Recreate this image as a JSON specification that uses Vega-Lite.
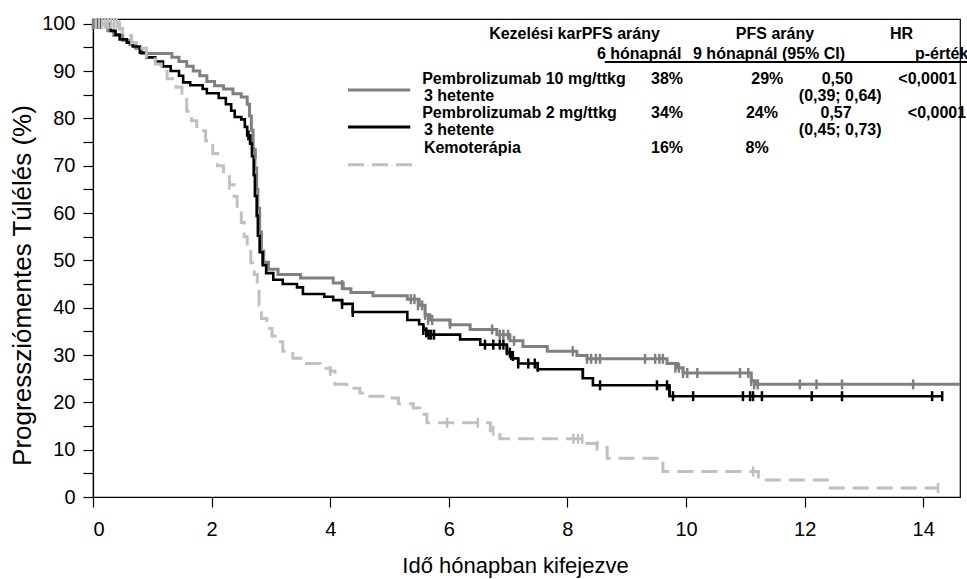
{
  "$schema": "https://vega.github.io/schema/vega-lite/v6.json",
  "width": 867,
  "height": 478,
  "autosize": {"type": "none"},
  "padding": {"left": 93, "top": 19, "right": 7, "bottom": 82},
  "background": "white",
  "config": {
    "font": "Liberation Sans",
    "view": {"stroke": "#000", "strokeWidth": 1.2},
    "axis": {
      "grid": false,
      "domainColor": "#000",
      "tickColor": "#000",
      "labelColor": "#000",
      "titleColor": "#000",
      "labelFont": "Liberation Sans",
      "titleFont": "Liberation Sans",
      "labelFontSize": 20,
      "titleFontSize": 22,
      "titleFontWeight": "normal",
      "tickSize": 10,
      "domainWidth": 1.2,
      "tickWidth": 1.2
    }
  },
  "datasets": {
    "curves": [
      {"arm": "10 mg", "t": 0, "s": 100}, {"arm": "10 mg", "t": 0.25, "s": 98.5}, {"arm": "10 mg", "t": 0.35, "s": 97.5}, {"arm": "10 mg", "t": 0.5, "s": 96.5}, {"arm": "10 mg", "t": 0.62, "s": 95.6}, {"arm": "10 mg", "t": 0.72, "s": 94.8}, {"arm": "10 mg", "t": 0.82, "s": 93.7}, {"arm": "10 mg", "t": 1.33, "s": 92.9}, {"arm": "10 mg", "t": 1.45, "s": 92.0}, {"arm": "10 mg", "t": 1.58, "s": 91.0}, {"arm": "10 mg", "t": 1.69, "s": 90.0}, {"arm": "10 mg", "t": 1.8, "s": 89.0}, {"arm": "10 mg", "t": 1.92, "s": 87.8}, {"arm": "10 mg", "t": 2.05, "s": 86.9}, {"arm": "10 mg", "t": 2.2, "s": 86.2}, {"arm": "10 mg", "t": 2.36, "s": 85.2}, {"arm": "10 mg", "t": 2.5, "s": 84.5}, {"arm": "10 mg", "t": 2.6, "s": 83.0}, {"arm": "10 mg", "t": 2.64, "s": 80.5}, {"arm": "10 mg", "t": 2.67, "s": 77.5}, {"arm": "10 mg", "t": 2.7, "s": 73.5}, {"arm": "10 mg", "t": 2.73, "s": 69.5}, {"arm": "10 mg", "t": 2.76, "s": 65}, {"arm": "10 mg", "t": 2.78, "s": 61}, {"arm": "10 mg", "t": 2.81, "s": 56}, {"arm": "10 mg", "t": 2.84, "s": 52}, {"arm": "10 mg", "t": 2.88, "s": 49.6}, {"arm": "10 mg", "t": 2.96, "s": 48.1}, {"arm": "10 mg", "t": 3.12, "s": 47.0}, {"arm": "10 mg", "t": 3.5, "s": 46.3}, {"arm": "10 mg", "t": 4.05, "s": 45.2}, {"arm": "10 mg", "t": 4.22, "s": 44.0}, {"arm": "10 mg", "t": 4.35, "s": 43.2}, {"arm": "10 mg", "t": 4.72, "s": 42.5}, {"arm": "10 mg", "t": 5.3, "s": 41.8}, {"arm": "10 mg", "t": 5.5, "s": 40.5}, {"arm": "10 mg", "t": 5.6, "s": 38.5}, {"arm": "10 mg", "t": 5.68, "s": 37.4}, {"arm": "10 mg", "t": 6.02, "s": 36.4}, {"arm": "10 mg", "t": 6.36, "s": 35.4}, {"arm": "10 mg", "t": 6.81, "s": 34.3}, {"arm": "10 mg", "t": 7.03, "s": 33.0}, {"arm": "10 mg", "t": 7.25, "s": 31.8}, {"arm": "10 mg", "t": 7.66, "s": 30.8}, {"arm": "10 mg", "t": 8.16, "s": 29.9}, {"arm": "10 mg", "t": 8.33, "s": 29.2}, {"arm": "10 mg", "t": 9.68, "s": 28.2}, {"arm": "10 mg", "t": 9.85, "s": 27.3}, {"arm": "10 mg", "t": 9.95, "s": 26.2}, {"arm": "10 mg", "t": 11.1, "s": 24.5}, {"arm": "10 mg", "t": 11.18, "s": 23.8}, {"arm": "10 mg", "t": 14.62, "s": 23.8},
      {"arm": "2 mg", "t": 0, "s": 100}, {"arm": "2 mg", "t": 0.3, "s": 98.5}, {"arm": "2 mg", "t": 0.38, "s": 97.7}, {"arm": "2 mg", "t": 0.45, "s": 96.7}, {"arm": "2 mg", "t": 0.57, "s": 96.0}, {"arm": "2 mg", "t": 0.67, "s": 95.2}, {"arm": "2 mg", "t": 0.79, "s": 93.9}, {"arm": "2 mg", "t": 0.9, "s": 92.9}, {"arm": "2 mg", "t": 1.05, "s": 92.0}, {"arm": "2 mg", "t": 1.18, "s": 91.0}, {"arm": "2 mg", "t": 1.31, "s": 90.0}, {"arm": "2 mg", "t": 1.45, "s": 89.0}, {"arm": "2 mg", "t": 1.52, "s": 87.6}, {"arm": "2 mg", "t": 1.64, "s": 87.0}, {"arm": "2 mg", "t": 1.85, "s": 86.2}, {"arm": "2 mg", "t": 1.92, "s": 85.3}, {"arm": "2 mg", "t": 2.12, "s": 84.3}, {"arm": "2 mg", "t": 2.24, "s": 83.0}, {"arm": "2 mg", "t": 2.33, "s": 81.6}, {"arm": "2 mg", "t": 2.39, "s": 80.3}, {"arm": "2 mg", "t": 2.5, "s": 79.8}, {"arm": "2 mg", "t": 2.56, "s": 78.2}, {"arm": "2 mg", "t": 2.6, "s": 76.4}, {"arm": "2 mg", "t": 2.65, "s": 74.7}, {"arm": "2 mg", "t": 2.68, "s": 72.0}, {"arm": "2 mg", "t": 2.71, "s": 68}, {"arm": "2 mg", "t": 2.73, "s": 63.6}, {"arm": "2 mg", "t": 2.76, "s": 59.4}, {"arm": "2 mg", "t": 2.78, "s": 55.2}, {"arm": "2 mg", "t": 2.81, "s": 51.7}, {"arm": "2 mg", "t": 2.86, "s": 49.0}, {"arm": "2 mg", "t": 2.92, "s": 47.3}, {"arm": "2 mg", "t": 3.04, "s": 45.9}, {"arm": "2 mg", "t": 3.2, "s": 45.0}, {"arm": "2 mg", "t": 3.44, "s": 44.3}, {"arm": "2 mg", "t": 3.54, "s": 42.9}, {"arm": "2 mg", "t": 3.9, "s": 42.3}, {"arm": "2 mg", "t": 4.05, "s": 41.6}, {"arm": "2 mg", "t": 4.2, "s": 40.8}, {"arm": "2 mg", "t": 4.38, "s": 39.1}, {"arm": "2 mg", "t": 5.3, "s": 37.4}, {"arm": "2 mg", "t": 5.5, "s": 36.5}, {"arm": "2 mg", "t": 5.57, "s": 35.3}, {"arm": "2 mg", "t": 5.62, "s": 34.3}, {"arm": "2 mg", "t": 6.19, "s": 33.3}, {"arm": "2 mg", "t": 6.53, "s": 32.2}, {"arm": "2 mg", "t": 6.98, "s": 30.5}, {"arm": "2 mg", "t": 7.05, "s": 29.3}, {"arm": "2 mg", "t": 7.17, "s": 28.2}, {"arm": "2 mg", "t": 7.5, "s": 27.0}, {"arm": "2 mg", "t": 8.26, "s": 25.1}, {"arm": "2 mg", "t": 8.43, "s": 23.6}, {"arm": "2 mg", "t": 9.72, "s": 21.3}, {"arm": "2 mg", "t": 14.32, "s": 21.3},
      {"arm": "Kemo", "t": 0, "s": 100}, {"arm": "Kemo", "t": 0.45, "s": 99}, {"arm": "Kemo", "t": 0.5, "s": 97.5}, {"arm": "Kemo", "t": 0.65, "s": 96}, {"arm": "Kemo", "t": 0.76, "s": 94.8}, {"arm": "Kemo", "t": 0.9, "s": 93}, {"arm": "Kemo", "t": 1.05, "s": 91.5}, {"arm": "Kemo", "t": 1.15, "s": 90}, {"arm": "Kemo", "t": 1.25, "s": 88.4}, {"arm": "Kemo", "t": 1.4, "s": 86.6}, {"arm": "Kemo", "t": 1.5, "s": 84}, {"arm": "Kemo", "t": 1.58, "s": 81.5}, {"arm": "Kemo", "t": 1.66, "s": 79.5}, {"arm": "Kemo", "t": 1.75, "s": 77.4}, {"arm": "Kemo", "t": 1.9, "s": 75.3}, {"arm": "Kemo", "t": 2.02, "s": 72.6}, {"arm": "Kemo", "t": 2.1, "s": 70}, {"arm": "Kemo", "t": 2.2, "s": 68}, {"arm": "Kemo", "t": 2.3, "s": 66}, {"arm": "Kemo", "t": 2.38, "s": 63.5}, {"arm": "Kemo", "t": 2.43, "s": 60.7}, {"arm": "Kemo", "t": 2.5, "s": 58}, {"arm": "Kemo", "t": 2.55, "s": 55}, {"arm": "Kemo", "t": 2.6, "s": 52.3}, {"arm": "Kemo", "t": 2.66, "s": 49.5}, {"arm": "Kemo", "t": 2.72, "s": 47}, {"arm": "Kemo", "t": 2.77, "s": 44.5}, {"arm": "Kemo", "t": 2.8, "s": 40.5}, {"arm": "Kemo", "t": 2.84, "s": 37.7}, {"arm": "Kemo", "t": 2.93, "s": 35.6}, {"arm": "Kemo", "t": 3.02, "s": 34}, {"arm": "Kemo", "t": 3.1, "s": 32.8}, {"arm": "Kemo", "t": 3.2, "s": 30.8}, {"arm": "Kemo", "t": 3.37, "s": 29.3}, {"arm": "Kemo", "t": 3.6, "s": 28.2}, {"arm": "Kemo", "t": 3.83, "s": 27.2}, {"arm": "Kemo", "t": 4.0, "s": 26.6}, {"arm": "Kemo", "t": 4.08, "s": 23.8}, {"arm": "Kemo", "t": 4.28, "s": 23.0}, {"arm": "Kemo", "t": 4.5, "s": 22.0}, {"arm": "Kemo", "t": 4.67, "s": 21.3}, {"arm": "Kemo", "t": 4.89, "s": 20.9}, {"arm": "Kemo", "t": 5.15, "s": 19.7}, {"arm": "Kemo", "t": 5.4, "s": 18.8}, {"arm": "Kemo", "t": 5.51, "s": 17.5}, {"arm": "Kemo", "t": 5.63, "s": 15.7}, {"arm": "Kemo", "t": 6.7, "s": 14.0}, {"arm": "Kemo", "t": 6.86, "s": 12.3}, {"arm": "Kemo", "t": 8.3, "s": 11.3}, {"arm": "Kemo", "t": 8.5, "s": 10.5}, {"arm": "Kemo", "t": 8.67, "s": 8.2}, {"arm": "Kemo", "t": 9.61, "s": 5.4}, {"arm": "Kemo", "t": 11.22, "s": 3.6}, {"arm": "Kemo", "t": 12.38, "s": 1.9}, {"arm": "Kemo", "t": 14.25, "s": 1.9}
    ],
    "censors": [
      {"arm": "10 mg", "t": 0.0, "s": 100}, {"arm": "10 mg", "t": 0.02, "s": 100}, {"arm": "10 mg", "t": 2.74, "s": 72.5}, {"arm": "10 mg", "t": 4.2, "s": 44.8}, {"arm": "10 mg", "t": 5.36, "s": 41.8}, {"arm": "10 mg", "t": 5.42, "s": 41.8}, {"arm": "10 mg", "t": 5.48, "s": 40.5}, {"arm": "10 mg", "t": 5.55, "s": 40.5}, {"arm": "10 mg", "t": 5.6, "s": 38.5}, {"arm": "10 mg", "t": 5.65, "s": 37.4}, {"arm": "10 mg", "t": 5.72, "s": 37.4}, {"arm": "10 mg", "t": 6.02, "s": 36.6}, {"arm": "10 mg", "t": 6.73, "s": 35.4}, {"arm": "10 mg", "t": 6.86, "s": 34.3}, {"arm": "10 mg", "t": 6.92, "s": 34.3}, {"arm": "10 mg", "t": 7.0, "s": 34.3}, {"arm": "10 mg", "t": 7.1, "s": 33.0}, {"arm": "10 mg", "t": 8.09, "s": 30.8}, {"arm": "10 mg", "t": 8.33, "s": 29.2}, {"arm": "10 mg", "t": 8.4, "s": 29.2}, {"arm": "10 mg", "t": 8.48, "s": 29.2}, {"arm": "10 mg", "t": 8.55, "s": 29.2}, {"arm": "10 mg", "t": 9.31, "s": 29.2}, {"arm": "10 mg", "t": 9.48, "s": 29.2}, {"arm": "10 mg", "t": 9.55, "s": 29.2}, {"arm": "10 mg", "t": 9.61, "s": 29.2}, {"arm": "10 mg", "t": 9.82, "s": 27.3}, {"arm": "10 mg", "t": 9.88, "s": 27.3}, {"arm": "10 mg", "t": 9.95, "s": 26.2}, {"arm": "10 mg", "t": 10.02, "s": 26.2}, {"arm": "10 mg", "t": 10.19, "s": 26.2}, {"arm": "10 mg", "t": 10.91, "s": 26.2}, {"arm": "10 mg", "t": 11.05, "s": 26.2}, {"arm": "10 mg", "t": 11.1, "s": 24.5}, {"arm": "10 mg", "t": 11.15, "s": 23.8}, {"arm": "10 mg", "t": 11.21, "s": 23.8}, {"arm": "10 mg", "t": 11.92, "s": 23.8}, {"arm": "10 mg", "t": 12.2, "s": 23.8}, {"arm": "10 mg", "t": 12.63, "s": 23.8}, {"arm": "10 mg", "t": 13.83, "s": 23.8},
      {"arm": "2 mg", "t": 0.07, "s": 100}, {"arm": "2 mg", "t": 0.12, "s": 100}, {"arm": "2 mg", "t": 2.62, "s": 76.4}, {"arm": "2 mg", "t": 2.65, "s": 75.5}, {"arm": "2 mg", "t": 4.2, "s": 40.8}, {"arm": "2 mg", "t": 4.38, "s": 39.1}, {"arm": "2 mg", "t": 5.57, "s": 35.3}, {"arm": "2 mg", "t": 5.62, "s": 34.8}, {"arm": "2 mg", "t": 5.66, "s": 34.3}, {"arm": "2 mg", "t": 5.7, "s": 34.3}, {"arm": "2 mg", "t": 5.75, "s": 34.3}, {"arm": "2 mg", "t": 6.61, "s": 32.2}, {"arm": "2 mg", "t": 6.75, "s": 32.2}, {"arm": "2 mg", "t": 6.86, "s": 32.2}, {"arm": "2 mg", "t": 6.92, "s": 32.2}, {"arm": "2 mg", "t": 6.98, "s": 31.0}, {"arm": "2 mg", "t": 7.03, "s": 30.5}, {"arm": "2 mg", "t": 7.08, "s": 29.8}, {"arm": "2 mg", "t": 7.17, "s": 28.2}, {"arm": "2 mg", "t": 7.34, "s": 28.2}, {"arm": "2 mg", "t": 7.45, "s": 28.2}, {"arm": "2 mg", "t": 7.5, "s": 27.5}, {"arm": "2 mg", "t": 8.26, "s": 26.0}, {"arm": "2 mg", "t": 8.55, "s": 23.6}, {"arm": "2 mg", "t": 9.51, "s": 23.6}, {"arm": "2 mg", "t": 9.68, "s": 23.6}, {"arm": "2 mg", "t": 9.72, "s": 22.5}, {"arm": "2 mg", "t": 9.78, "s": 21.3}, {"arm": "2 mg", "t": 10.12, "s": 21.3}, {"arm": "2 mg", "t": 10.96, "s": 21.3}, {"arm": "2 mg", "t": 11.08, "s": 21.3}, {"arm": "2 mg", "t": 11.13, "s": 21.3}, {"arm": "2 mg", "t": 11.28, "s": 21.3}, {"arm": "2 mg", "t": 12.12, "s": 21.3}, {"arm": "2 mg", "t": 12.63, "s": 21.3}, {"arm": "2 mg", "t": 14.15, "s": 21.3}, {"arm": "2 mg", "t": 14.32, "s": 21.3},
      {"arm": "Kemo", "t": 0.05, "s": 100}, {"arm": "Kemo", "t": 0.1, "s": 100}, {"arm": "Kemo", "t": 0.15, "s": 100}, {"arm": "Kemo", "t": 0.2, "s": 100}, {"arm": "Kemo", "t": 0.25, "s": 100}, {"arm": "Kemo", "t": 0.3, "s": 100}, {"arm": "Kemo", "t": 0.35, "s": 100}, {"arm": "Kemo", "t": 0.4, "s": 100}, {"arm": "Kemo", "t": 0.45, "s": 99.5}, {"arm": "Kemo", "t": 2.3, "s": 66}, {"arm": "Kemo", "t": 4.0, "s": 26.6}, {"arm": "Kemo", "t": 5.97, "s": 15.7}, {"arm": "Kemo", "t": 6.49, "s": 15.7}, {"arm": "Kemo", "t": 6.75, "s": 14.0}, {"arm": "Kemo", "t": 8.1, "s": 12.3}, {"arm": "Kemo", "t": 8.18, "s": 12.3}, {"arm": "Kemo", "t": 8.25, "s": 12.3}, {"arm": "Kemo", "t": 8.5, "s": 10.8}, {"arm": "Kemo", "t": 11.13, "s": 5.4}, {"arm": "Kemo", "t": 14.25, "s": 1.9}
    ],
    "legendLines": [
      {"arm": "10 mg", "a": 4.3, "b": 5.35, "s": 86.0},
      {"arm": "2 mg", "a": 4.3, "b": 5.35, "s": 78.2},
      {"arm": "Kemo", "a": 4.3, "b": 5.42, "s": 70.2}
    ],
    "underline": [{"a": 8.63, "b": 14.8, "s": 91.9}],
    "textLeft": [
      {"label": "Kezelési karPFS arány", "t": 6.68, "s": 97.8},
      {"label": "HR", "t": 13.44, "s": 97.8},
      {"label": "p-érték", "t": 13.86, "s": 93.6},
      {"label": "Pembrolizumab 10 mg/ttkg", "t": 5.55, "s": 88.3},
      {"label": "<0,0001", "t": 13.58, "s": 88.3},
      {"label": "3 hetente", "t": 5.58, "s": 84.8},
      {"label": "Pembrolizumab 2 mg/ttkg", "t": 5.55, "s": 81.1},
      {"label": "<0,0001", "t": 13.74, "s": 81.1},
      {"label": "3 hetente", "t": 5.58, "s": 77.5},
      {"label": "Kemoterápia", "t": 5.58, "s": 73.7}
    ],
    "textCenter": [
      {"label": "PFS arány", "t": 11.5, "s": 97.8},
      {"label": "6 hónapnál", "t": 9.21, "s": 93.6},
      {"label": "9 hónapnál (95% CI)", "t": 11.4, "s": 93.6},
      {"label": "38%", "t": 9.68, "s": 88.3},
      {"label": "29%", "t": 11.37, "s": 88.3},
      {"label": "0,50", "t": 12.55, "s": 88.3},
      {"label": "(0,39; 0,64)", "t": 12.6, "s": 84.8},
      {"label": "34%", "t": 9.68, "s": 81.1},
      {"label": "24%", "t": 11.28, "s": 81.1},
      {"label": "0,57", "t": 12.53, "s": 81.1},
      {"label": "(0,45; 0,73)", "t": 12.6, "s": 77.5},
      {"label": "16%", "t": 9.68, "s": 73.7},
      {"label": "8%", "t": 11.2, "s": 73.7}
    ]
  },
  "encoding": {
    "x": {
      "field": "t", "type": "quantitative",
      "scale": {"domain": [0, 14.62], "nice": false, "zero": false},
      "axis": {"title": "Idő hónapban kifejezve", "titleX": 422, "values": [0, 2, 4, 6, 8, 10, 12, 14], "labelPadding": 12, "titlePadding": 16}
    },
    "y": {
      "field": "s", "type": "quantitative",
      "scale": {"domain": [0, 101], "nice": false},
      "axis": {"title": "Progressziómentes Túlélés (%)", "titleFontSize": 26, "titleY": 266, "values": [0, 5, 10, 15, 20, 25, 30, 35, 40, 45, 50, 55, 60, 65, 70, 75, 80, 85, 90, 95, 100], "labelExpr": "datum.value % 10 === 0 ? datum.label : ''", "labelPadding": 8, "titlePadding": 6}
    }
  },
  "layer": [
    {
      "data": {"name": "curves"},
      "transform": [{"filter": "datum.arm === '10 mg'"}],
      "mark": {"type": "line", "interpolate": "step-after", "color": "#808080", "strokeWidth": 3}
    },
    {
      "data": {"name": "curves"},
      "transform": [{"filter": "datum.arm === '2 mg'"}],
      "mark": {"type": "line", "interpolate": "step-after", "color": "#000000", "strokeWidth": 2.6}
    },
    {
      "data": {"name": "curves"},
      "transform": [{"filter": "datum.arm === 'Kemo'"}],
      "mark": {"type": "line", "interpolate": "step-after", "color": "#c0c0c0", "strokeWidth": 3, "strokeDash": [16, 8]}
    },
    {
      "data": {"name": "censors"},
      "mark": {"type": "tick", "orient": "vertical", "size": 10, "thickness": 2.5, "opacity": 1},
      "encoding": {
        "color": {"field": "arm", "type": "nominal", "scale": {"domain": ["10 mg", "2 mg", "Kemo"], "range": ["#808080", "#000000", "#c0c0c0"]}, "legend": null}
      }
    },
    {
      "data": {"name": "legendLines"},
      "mark": {"type": "rule", "strokeWidth": 3},
      "encoding": {
        "x": {"field": "a", "type": "quantitative"},
        "x2": {"field": "b"},
        "y": {"field": "s", "type": "quantitative"},
        "color": {"field": "arm", "type": "nominal", "scale": {"domain": ["10 mg", "2 mg", "Kemo"], "range": ["#808080", "#000000", "#c0c0c0"]}, "legend": null},
        "strokeDash": {"field": "arm", "type": "nominal", "scale": {"domain": ["10 mg", "2 mg", "Kemo"], "range": [[1, 0], [1, 0], [16, 8]]}, "legend": null}
      }
    },
    {
      "data": {"name": "underline"},
      "mark": {"type": "rule", "strokeWidth": 2, "color": "#000", "clip": false},
      "encoding": {
        "x": {"field": "a", "type": "quantitative"},
        "x2": {"field": "b"},
        "y": {"field": "s", "type": "quantitative"}
      }
    },
    {
      "data": {"name": "textLeft"},
      "mark": {"type": "text", "align": "left", "baseline": "middle", "font": "Liberation Sans", "fontWeight": "bold", "fontSize": 16, "color": "#000"},
      "encoding": {"text": {"field": "label"}}
    },
    {
      "data": {"name": "textCenter"},
      "mark": {"type": "text", "align": "center", "baseline": "middle", "font": "Liberation Sans", "fontWeight": "bold", "fontSize": 16, "color": "#000"},
      "encoding": {"text": {"field": "label"}}
    }
  ]
}
